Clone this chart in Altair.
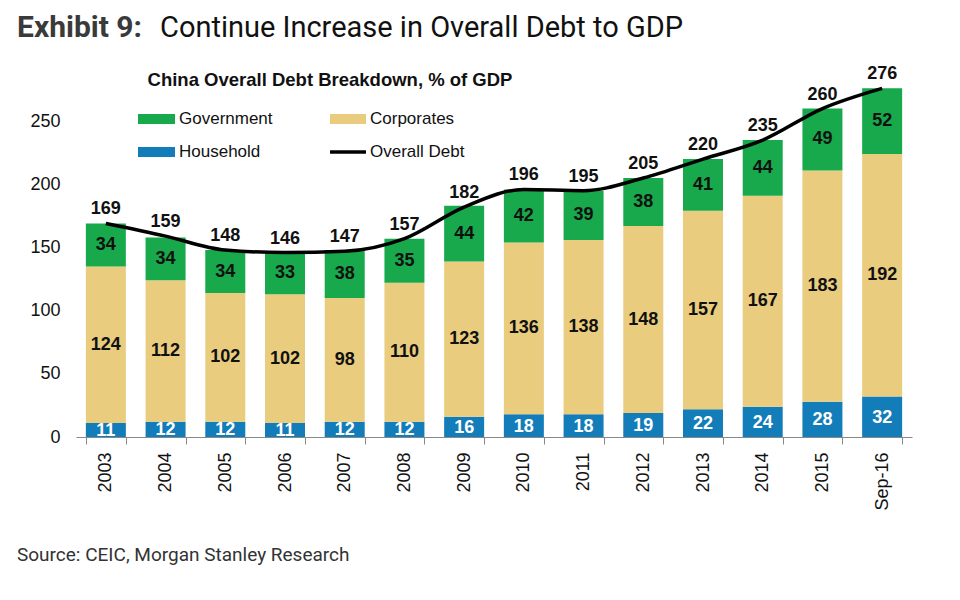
import altair as alt
import pandas as pd

periods = ["2003", "2004", "2005", "2006", "2007", "2008", "2009", "2010",
           "2011", "2012", "2013", "2014", "2015", "Sep-16"]
household = [11, 12, 12, 11, 12, 12, 16, 18, 18, 19, 22, 24, 28, 32]
corporates = [124, 112, 102, 102, 98, 110, 123, 136, 138, 148, 157, 167, 183, 192]
government = [34, 34, 34, 33, 38, 35, 44, 42, 39, 38, 41, 44, 49, 52]
overall = [169, 159, 148, 146, 147, 157, 182, 196, 195, 205, 220, 235, 260, 276]

series_names = ["Household", "Corporates", "Government"]
series_colors = ["#137dba", "#e9cc7e", "#17a94b"]

rows = []
for i, p in enumerate(periods):
    base = 0
    for k, (name, vals) in enumerate(zip(series_names, [household, corporates, government])):
        v = vals[i]
        rows.append({"period": p, "series": name, "value": v, "order": k,
                     "y0": base, "y1": base + v, "mid": base + v / 2})
        base += v
bars_df = pd.DataFrame(rows)
tot_df = pd.DataFrame({"period": periods, "total": overall})

FONT = "Liberation Sans"
W, H = 836, 379

x_enc = alt.X("period:N", sort=periods, title=None,
              scale=alt.Scale(paddingInner=0.33, paddingOuter=0.165),
              axis=alt.Axis(labelAngle=-90, labelFontSize=18, labelFont=FONT,
                            labelColor="#111", tickBand="extent", tickSize=7,
                            tickColor="#888", domainColor="#888", labelPadding=8,
                            labelBaseline="middle", labelAlign="right"))
y_scale = alt.Scale(domain=[0, 300])

bars = alt.Chart(bars_df).mark_bar(size=40).encode(
    x=x_enc,
    y=alt.Y("y0:Q", scale=y_scale, title=None,
            axis=alt.Axis(values=[0, 50, 100, 150, 200, 250], labelFontSize=18,
                          labelFont=FONT, labelColor="#111", domain=False,
                          ticks=False, grid=False, labelPadding=16)),
    y2="y1:Q",
    color=alt.Color("series:N", scale=alt.Scale(domain=series_names, range=series_colors),
                    legend=None),
)

lbl_dark = alt.Chart(bars_df).transform_filter(
    alt.datum.series != "Household").mark_text(
    font=FONT, fontSize=18, fontWeight="bold", color="#111", baseline="middle").encode(
    x=alt.X("period:N", sort=periods), y=alt.Y("mid:Q", scale=y_scale), text="value:Q")

lbl_white = alt.Chart(bars_df).transform_filter(
    alt.datum.series == "Household").mark_text(
    font=FONT, fontSize=18, fontWeight="bold", color="white", baseline="middle", dy=1).encode(
    x=alt.X("period:N", sort=periods), y=alt.Y("mid:Q", scale=y_scale), text="value:Q")

line = alt.Chart(tot_df).mark_line(color="black", strokeWidth=3.5, interpolate="monotone").encode(
    x=alt.X("period:N", sort=periods), y=alt.Y("total:Q", scale=y_scale))

tot_lbl = alt.Chart(tot_df).mark_text(
    font=FONT, fontSize=18, fontWeight="bold", color="#111", baseline="middle", dy=-14).encode(
    x=alt.X("period:N", sort=periods), y=alt.Y("total:Q", scale=y_scale), text="total:Q")

one = pd.DataFrame({"a": [0]})


def txt(s, x, y, size, weight="normal", color="#111", font=FONT, align="left",
        baseline="middle"):
    return alt.Chart(one).mark_text(text=s, fontSize=size, fontWeight=weight, color=color,
                                    font=font, align=align, baseline=baseline).encode(
        x=alt.value(x), y=alt.value(y))


def swatch(x, x2, y, y2, color):
    return alt.Chart(one).mark_rect(color=color).encode(
        x=alt.value(x), x2=alt.value(x2), y=alt.value(y), y2=alt.value(y2))


legend_layers = [
    txt("China Overall Debt Breakdown, % of GDP", 254, 22, 18.5, "bold", align="center"),
    swatch(62, 99, 56, 66, "#17a94b"), txt("Government", 103, 61, 17),
    swatch(254, 290, 56, 66, "#e9cc7e"), txt("Corporates", 294, 61, 17),
    swatch(62, 99, 89, 99, "#137dba"), txt("Household", 103, 94, 17),
    alt.Chart(one).mark_rule(color="black", strokeWidth=3.5).encode(
        x=alt.value(254), x2=alt.value(290), y=alt.value(94)),
    txt("Overall Debt", 294, 94, 17),
    txt("Exhibit 9:", -59, -21, 30, "bold", color="#3a3a3a", font="Roboto",
        baseline="alphabetic"),
    txt("Continue Increase in Overall Debt to GDP", 84, -21, 29, color="#111",
        font="Roboto", baseline="alphabetic"),
    txt("Source: CEIC, Morgan Stanley Research", -59, 497, 19, color="#333", font="Roboto"),
]

chart = alt.layer(bars, lbl_dark, lbl_white, line, tot_lbl, *legend_layers).properties(
    width=W, height=H,
    autosize=alt.AutoSizeParams(type="none"),
    padding={"left": 68, "top": 50, "right": 40, "bottom": 155},
).configure(background="white").configure_view(stroke=None)

chart.save("out.html", embed_options={"renderer": "svg", "actions": False})
